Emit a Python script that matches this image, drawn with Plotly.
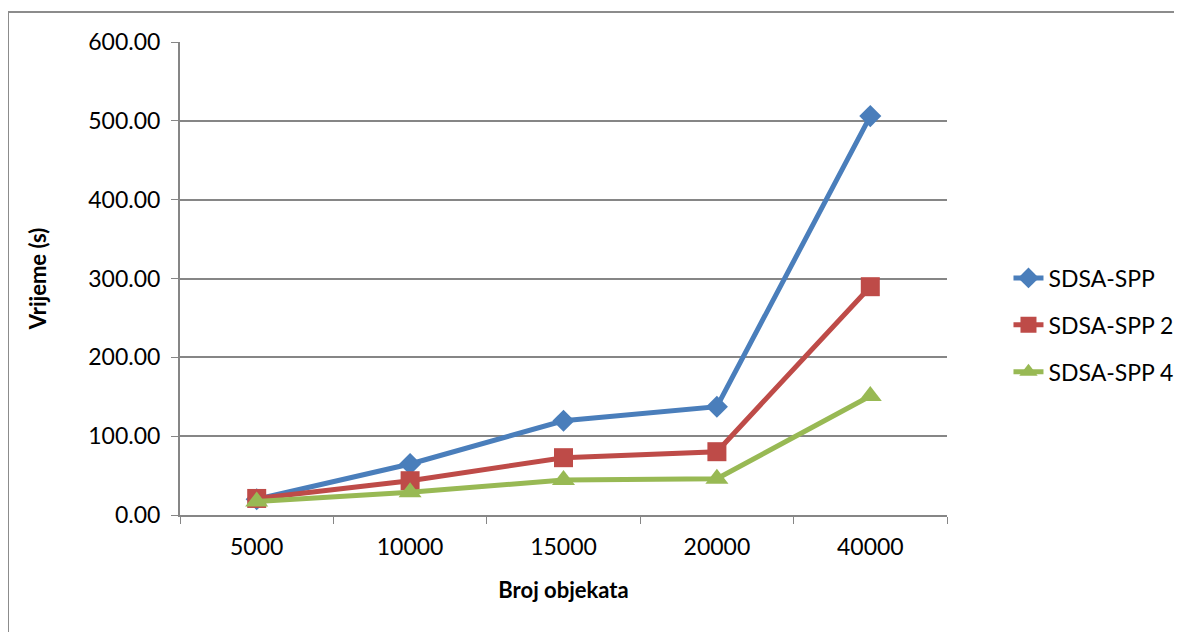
import plotly.graph_objects as go

categories = ["5000", "10000", "15000", "20000", "40000"]
sdsa_spp = [20.0, 64.7, 119.6, 137.4, 506.0]
sdsa_spp2 = [21.0, 43.5, 72.7, 80.3, 289.6]
sdsa_spp4 = [17.0, 28.8, 44.4, 46.0, 151.0]
y_ticks = [0, 100, 200, 300, 400, 500, 600]

FONT = "Lato, Carlito, Calibri, sans-serif"

series = [
    ("SDSA-SPP", sdsa_spp, "#4A7EBB", "diamond", 17),
    ("SDSA-SPP 2", sdsa_spp2, "#BE4B48", "square", 19),
    ("SDSA-SPP 4", sdsa_spp4, "#98B954", "triangle-up", 20),
]

fig = go.Figure()
for i, (name, vals, col, sym, sz) in enumerate(series):
    fig.add_trace(go.Scatter(
        x=categories, y=vals, name=name, mode="lines+markers",
        line=dict(color=col, width=5),
        marker=dict(symbol=sym, size=sz, color=col),
        legendgroup=f"g{i}",
    ))

fig.update_layout(
    width=1174, height=624,
    margin=dict(l=172, r=235, t=34, b=117, autoexpand=False),
    paper_bgcolor="white", plot_bgcolor="white",
    font=dict(family=FONT, size=22, color="black"),
    showlegend=True,
    legend=dict(
        xref="container", yref="container",
        x=0.8522, y=0.492, xanchor="left", yanchor="middle",
        font=dict(family=FONT, size=23, color="black"),
        traceorder="grouped", tracegroupgap=14,
        bgcolor="rgba(0,0,0,0)",
    ),
    xaxis=dict(
        type="category", range=[-0.5, 4.5],
        tickson="boundaries", ticks="outside", ticklen=7, tickcolor="#868686",
        showline=True, linecolor="#868686", linewidth=2,
        showgrid=False, zeroline=False,
        ticklabelstandoff=10,
        tickfont=dict(family=FONT, size=23, color="black"),
        title=dict(text="<b>Broj objekata</b>", font=dict(family=FONT, size=22, color="black"), standoff=24),
    ),
    yaxis=dict(
        range=[0, 600], tickvals=y_ticks, tickformat=".2f",
        ticks="outside", ticklen=7, tickcolor="#868686",
        showline=True, linecolor="#868686", linewidth=2,
        showgrid=True, gridcolor="#868686", gridwidth=2,
        zeroline=False,
        ticklabelstandoff=6,
        tickfont=dict(family=FONT, size=23, color="black"),
        title=dict(text="<b>Vrijeme (s)</b>", font=dict(family=FONT, size=22, color="black"), standoff=36),
    ),
    shapes=[dict(
        type="rect", xref="paper", yref="paper",
        x0=(8 - 180) / 767, x1=(1200 - 180) / 767,
        y0=(515 - 650) / 473, y1=(515 - 12) / 473,
        line=dict(color="#8C8C8C", width=2), fillcolor="rgba(0,0,0,0)", layer="below",
    )],
)

fig.write_html("out.html")
